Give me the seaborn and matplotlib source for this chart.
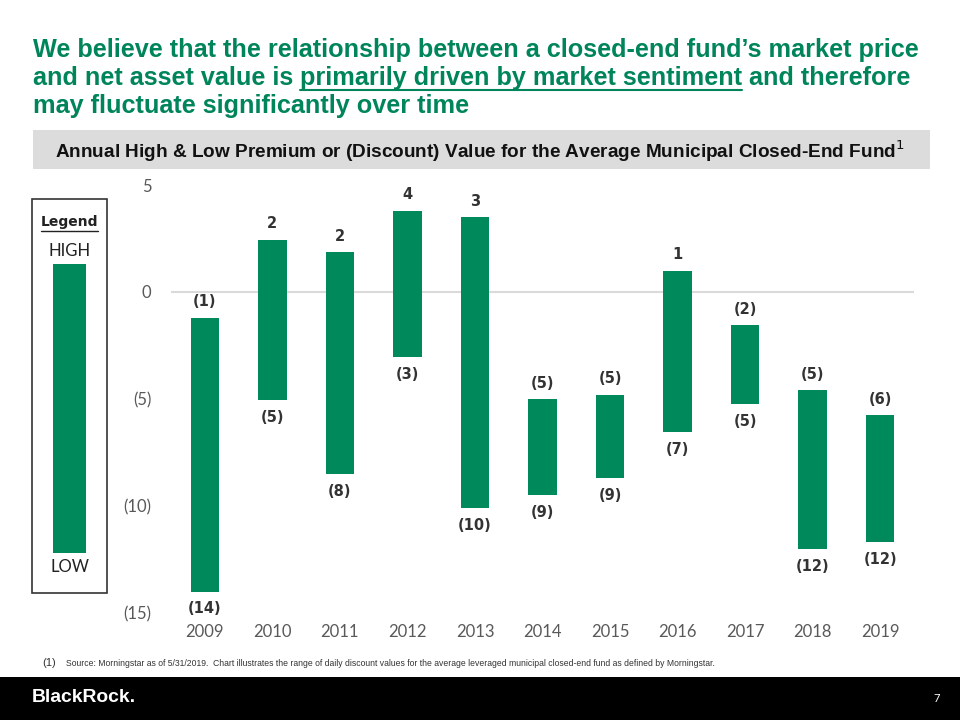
import matplotlib
matplotlib.use("Agg")
import matplotlib.pyplot as plt
import seaborn as sns
import pandas as pd
from matplotlib.patches import Rectangle
from matplotlib.lines import Line2D

# data
years = ["2009", "2010", "2011", "2012", "2013", "2014", "2015", "2016", "2017", "2018", "2019"]
high = [-1.2, 2.45, 1.85, 3.8, 3.5, -5.0, -4.8, 1.0, -1.55, -4.6, -5.75]
low = [-14.0, -5.05, -8.5, -3.05, -10.1, -9.5, -8.7, -6.55, -5.25, -12.0, -11.7]
high_labels = ["(1)", "2", "2", "4", "3", "(5)", "(5)", "1", "(2)", "(5)", "(6)"]
low_labels = ["(14)", "(5)", "(8)", "(3)", "(10)", "(9)", "(9)", "(7)", "(5)", "(12)", "(12)"]
y_ticks = [5, 0, -5, -10, -15]
y_tick_labels = ["5", "0", "(5)", "(10)", "(15)"]

GREEN = "#008A5B"
TITLE_GREEN = "#00855A"
NARROW = ["Liberation Sans", "DejaVu Sans"]

sns.set_theme(style="white")
plt.rcParams["font.family"] = ["Lato", "DejaVu Sans"]

df = pd.DataFrame({"year": years, "range": [h - l for h, l in zip(high, low)], "low": low})

fig = plt.figure(figsize=(9.6, 7.2), dpi=100)
ax = fig.add_axes([171 / 960, 1 - 613 / 720, 743 / 960, 428 / 720])

sns.barplot(data=df, x="year", y="range", bottom=df["low"], color=GREEN,
            width=0.42, saturation=1, ax=ax, edgecolor="none")
ax.set_ylim(-15, 5)
ax.set_xlim(-0.5, 10.5)
ax.axhline(0, color="#DADADA", lw=1.5, zorder=0)

for i in range(len(years)):
    ax.annotate(high_labels[i], (i, high[i]), xytext=(0, 6), textcoords="offset points",
                ha="center", va="bottom", fontsize=10.5, fontweight="bold", color="#333333",
                family="DejaVu Sans")
    ax.annotate(low_labels[i], (i, low[i]), xytext=(0, -7), textcoords="offset points",
                ha="center", va="top", fontsize=10.5, fontweight="bold", color="#333333",
                family="DejaVu Sans")

ax.set_yticks(y_ticks)
ax.set_yticklabels(y_tick_labels)
ax.tick_params(axis="y", length=0, pad=14, labelsize=12, labelcolor="#595959")
ax.tick_params(axis="x", length=0, pad=8, labelsize=12, labelcolor="#595959")
ax.set_xlabel("")
ax.set_ylabel("")
sns.despine(ax=ax, left=True, bottom=True)

fig.canvas.draw()
r = fig.canvas.get_renderer()


def fit(t, width):
    # shrink or grow a text so it spans the given pixel width
    w = t.get_window_extent(r).width
    t.set_fontsize(t.get_fontsize() * width / w)


# title with underlined phrase
title_kw = dict(fontsize=16, fontweight="bold", color=TITLE_GREEN, family=NARROW, va="baseline")
t0 = fig.text(33 / 960, 1 - 57 / 720, "We believe that the relationship between a closed-end fund\u2019s market price", **title_kw)
fit(t0, 887)
title_kw["fontsize"] = t0.get_fontsize()
t1 = fig.text(33 / 960, 1 - 85 / 720, "and net asset value is ", **title_kw)
x1 = t1.get_window_extent(r).x1
t2 = fig.text(x1 / 960, 1 - 85 / 720, "primarily driven by market sentiment", **title_kw)
bb = t2.get_window_extent(r)
fig.add_artist(Line2D([bb.x0 / 960, bb.x1 / 960], [1 - 90 / 720, 1 - 90 / 720], color=TITLE_GREEN, lw=1.5))
fig.text(bb.x1 / 960, 1 - 85 / 720, " and therefore", **title_kw)
fig.text(33 / 960, 1 - 113 / 720, "may fluctuate significantly over time", **title_kw)

# grey subtitle band
fig.add_artist(Rectangle((33 / 960, 1 - 169 / 720), 897 / 960, 39 / 720, transform=fig.transFigure,
                         facecolor="#DCDCDC", edgecolor="none"))
st = fig.text(480 / 960, 1 - 151 / 720,
              "Annual High & Low Premium or (Discount) Value for the Average Municipal Closed-End Fund$^{1}$",
              ha="center", va="center", fontsize=13, fontweight="bold", color="#111111", family=NARROW)
fit(st, 850)

# legend box
fig.add_artist(Rectangle((32 / 960, 1 - 593 / 720), 75 / 960, 394 / 720, transform=fig.transFigure,
                         facecolor="none", edgecolor="#333333", lw=1.2))
fig.add_artist(Rectangle((53 / 960, 1 - 553 / 720), 33 / 960, 289 / 720, transform=fig.transFigure,
                         facecolor=GREEN, edgecolor="none"))
lg = fig.text(69.5 / 960, 1 - 222 / 720, "Legend", ha="center", va="center", fontsize=11.5,
              fontweight="bold", color="#222222", family="DejaVu Sans")
fit(lg, 58)
lb = lg.get_window_extent(r)
fig.add_artist(Line2D([lb.x0 / 960, lb.x1 / 960], [1 - 231 / 720, 1 - 231 / 720], color="#222222", lw=1))
fig.text(69.5 / 960, 1 - 251 / 720, "HIGH", ha="center", va="center", fontsize=12, color="#222222")
fig.text(69.5 / 960, 1 - 567 / 720, "LOW", ha="center", va="center", fontsize=12, color="#222222")

# footnote
fig.text(42 / 960, 1 - 663 / 720, "(1)", ha="left", va="center", fontsize=8, color="#333333", family=NARROW)
ft = fig.text(66 / 960, 1 - 663 / 720,
              "Source: Morningstar as of 5/31/2019.  Chart illustrates the range of daily discount values for the average "
              "leveraged municipal closed-end fund as defined by Morningstar.",
              ha="left", va="center", fontsize=7, color="#333333", family=NARROW)
fit(ft, 644)

# black footer band
fig.add_artist(Rectangle((0, 0), 1, 43 / 720, transform=fig.transFigure, facecolor="black", edgecolor="none"))
logo = fig.text(32 / 960, 1 - 698 / 720, "BlackRock.", ha="left", va="center", fontsize=15, fontweight="bold",
                color="white", family=NARROW)
fit(logo, 105)
fig.text(937 / 960, 1 - 698 / 720, "7", ha="center", va="center", fontsize=8, color="white")

fig.savefig("out.png", dpi=100)
